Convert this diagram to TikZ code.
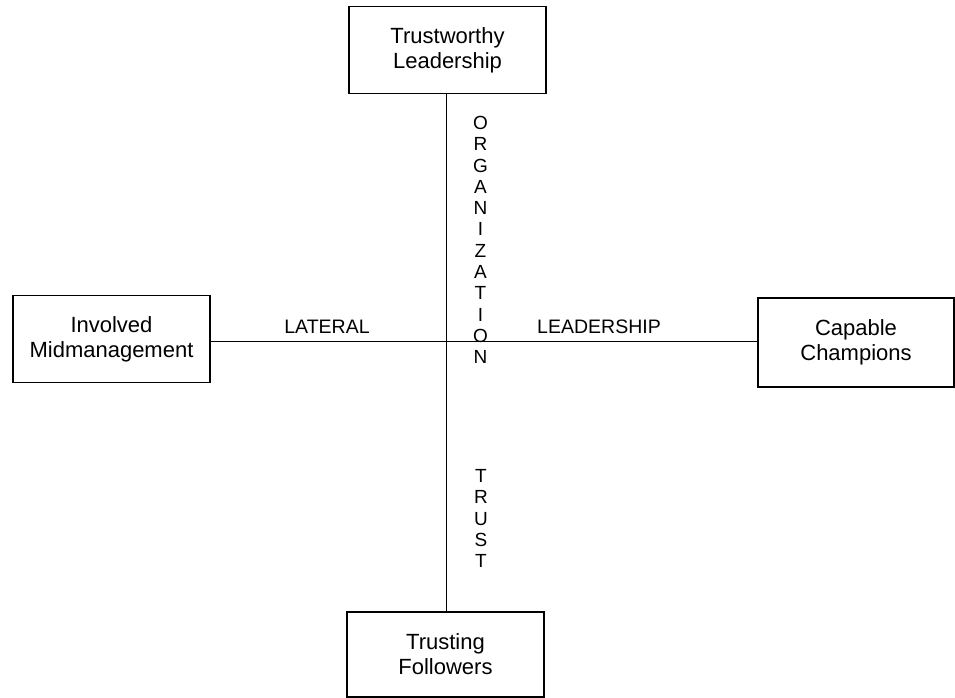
\documentclass[tikz,border=0pt]{standalone}
\usepackage{fontspec}
\setmainfont{Liberation Sans}
\usetikzlibrary{positioning}
\tikzset{
	quadbox/.style = {draw=black, rectangle, align=center, inner sep=0pt,
		line width=1.5pt, minimum width=197pt, minimum height=87pt,
		font=\fontsize{22}{25}\selectfont},% boite du coin
	axis_t/.style = {align=center, inner sep=0pt,
		font=\fontsize{19.5}{21}\selectfont},% texte d'axe
	axis_v/.style = {axis_t, font=\fontsize{19}{21.3}\selectfont}% texte vertical
}
\begin{document}
\begin{tikzpicture}[x=1pt,y=-1pt,line width=1pt]
	\useasboundingbox (0,0) rectangle (955,698);
	\coordinate (cross) at (446,341.5);
	\node [quadbox] (lead) at (447.5,50) {Trustworthy\\Leadership};
	\node [quadbox] (mid) at (111.5,339) {Involved\\Midmanagement};
	\node [quadbox, minimum width=196pt, minimum height=89pt] (champ) at (856,342.5)
		{Capable\\Champions};
	\node [quadbox, minimum height=85pt] (follow) at (445.5,654.5)
		{Trusting\\Followers};
	\draw (lead.south -| cross) -- (follow.north -| cross);
	\draw (mid.east |- cross) -- (champ.west |- cross);
	\node [axis_t] (lateral) at (327,327) {LATERAL};
	\node [axis_t] (leadership) at (599,327) {LEADERSHIP};
	\node [axis_v] (organization) at (480.5,240)
		{O\\R\\G\\A\\N\\I\\Z\\A\\T\\I\\O\\N};
	\node [axis_v] (trust) at (481,518.5) {T\\R\\U\\S\\T};
\end{tikzpicture}
\end{document}
